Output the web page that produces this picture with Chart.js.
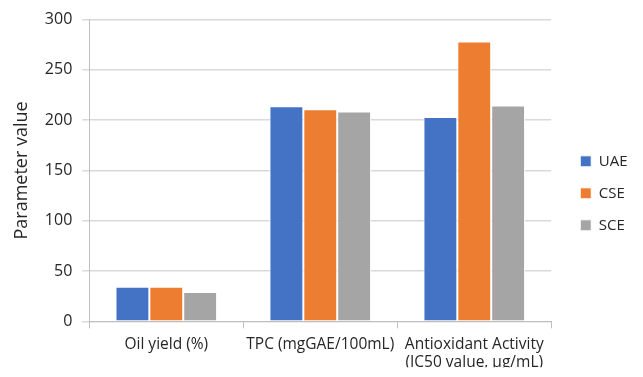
<!DOCTYPE html>
<html lang="en">
<head>
    <meta charset="UTF-8">
    <title>Parameter values by extraction method</title>
    <script src="https://cdn.jsdelivr.net/npm/chart.js"></script>
    <style>
        html, body { margin: 0; padding: 0; background: #fff; }
        #wrap { width: 643px; height: 377px; }
    </style>
</head>
<body>
    <div id="wrap"><canvas id="chart" width="643" height="377"></canvas></div>

    <script>
        // categories on the x axis
        const categories = [
            "Oil yield (%)",
            "TPC (mgGAE/100mL)",
            ["Antioxidant Activity", "(IC50 value, \u00b5g/mL)"]
        ];

        // series values
        const uaeValues = [34.4, 213.8, 203.2];
        const cseValues = [34.4, 210.8, 278.3];
        const sceValues = [29.1, 208.5, 214.5];

        const seriesNames = ["UAE", "CSE", "SCE"];
        const seriesColors = ["#4472C4", "#ED7D31", "#A5A5A5"];

        const yMin = 0;
        const yMax = 300;
        const yStep = 50;

        const textColor = "#262626";
        const fontFamily = "'Open Sans', 'Liberation Sans', sans-serif";

        const ctx = document.getElementById('chart').getContext('2d');

        const datasets = [uaeValues, cseValues, sceValues].map((values, i) => ({
            label: seriesNames[i],
            data: values,
            backgroundColor: seriesColors[i],
            borderColor: "#ffffff",
            borderWidth: 1,
            categoryPercentage: 0.66,
            barPercentage: 1.0
        }));

        new Chart(ctx, {
            type: 'bar',
            data: {
                labels: categories,
                datasets: datasets
            },
            options: {
                responsive: false,
                animation: false,
                layout: {
                    padding: { top: 19.3, bottom: 9.7, left: 0, right: 5.5 }
                },
                plugins: {
                    tooltip: { enabled: false },
                    legend: {
                        position: 'right',
                        align: 'center',
                        labels: {
                            boxWidth: 11,
                            boxHeight: 11,
                            padding: 17,
                            color: textColor,
                            font: { family: fontFamily, size: 15 }
                        }
                    }
                },
                scales: {
                    x: {
                        grid: {
                            drawOnChartArea: false,
                            drawTicks: true,
                            tickLength: 7,
                            color: "#bfbfbf",
                            lineWidth: 1
                        },
                        border: { display: true, color: "#bfbfbf", width: 1 },
                        ticks: {
                            color: textColor,
                            padding: 7,
                            maxRotation: 0,
                            autoSkip: false,
                            font: { family: fontFamily, size: 15.5, lineHeight: 1.18 }
                        },
                        afterFit(scale) { scale.height = 46; }
                    },
                    y: {
                        min: yMin,
                        max: yMax,
                        ticks: {
                            stepSize: yStep,
                            color: textColor,
                            padding: 10,
                            font: { family: fontFamily, size: 16 }
                        },
                        grid: {
                            color: "#d9d9d9",
                            lineWidth: 1.5,
                            tickLength: 7
                        },
                        border: { display: true, color: "#bfbfbf", width: 1 },
                        title: {
                            display: true,
                            text: "Parameter value",
                            color: textColor,
                            padding: { top: 11, bottom: 0 },
                            font: { family: fontFamily, size: 18 }
                        },
                        afterFit(scale) { scale.width = 89.3; }
                    },
                    // empty spacer so the legend sits a little away from the plot
                    spacer: {
                        type: 'linear',
                        position: 'right',
                        display: true,
                        ticks: { display: false },
                        grid: { display: false },
                        border: { display: false },
                        afterFit(scale) { scale.width = 12; }
                    }
                }
            }
        });
    </script>
</body>
</html>
